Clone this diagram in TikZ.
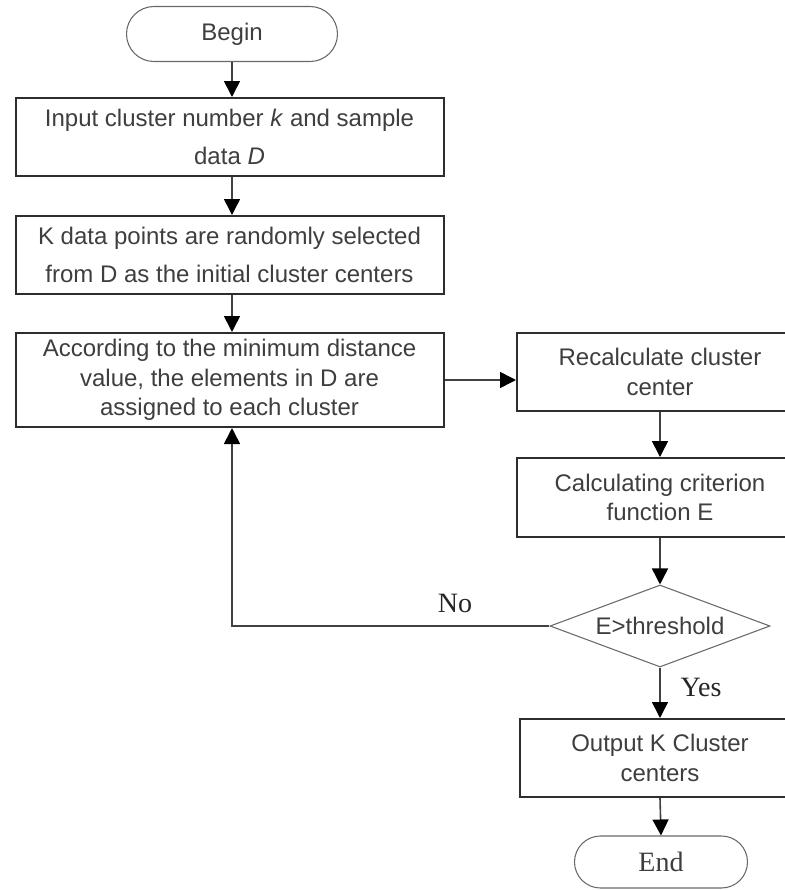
\documentclass[tikz,border=0pt]{standalone}
\usepackage{fontspec}
\setmainfont{Liberation Sans}
\newfontfamily\seriflab{Liberation Serif}
\usetikzlibrary{arrows.meta,shapes.geometric,calc}
\definecolor{txt}{RGB}{62,62,62}
\definecolor{bord}{RGB}{45,45,45}
\definecolor{thin}{RGB}{105,105,105}
\definecolor{conn}{RGB}{65,65,65}
\begin{document}
\begin{tikzpicture}[x=0.75pt,y=-0.75pt,
  every node/.style={text=txt, font=\fontsize{18}{22}\selectfont},
  procbox/.style={draw=bord, line width=1.5pt, rectangle, align=center, inner sep=0pt},
  leftbox/.style={procbox, minimum width=321pt, minimum height=58.5pt},
  rightbox/.style={procbox, minimum width=214.5pt, minimum height=58.5pt},
  term/.style={draw=thin, line width=0.8pt, rectangle, inner sep=0pt},
  decision/.style={draw=thin, line width=0.8pt, diamond, shape aspect=2.68, inner sep=0pt, minimum width=165pt, minimum height=61.5pt},
  arr/.style={draw=conn, line width=1.2pt, -{Triangle[length=12pt,width=12pt,color=black]}},
  lab/.style={font=\seriflab\fontsize{21}{24}\selectfont, text=black!85}]
\useasboundingbox (0,0) rectangle (785,890);
\clip (0,0) rectangle (785,890);
% nodes
\node[term, minimum width=158.25pt, minimum height=41.25pt, rounded corners=20.6pt] (begin) at (232,34) {Begin};
\node[leftbox, font=\fontsize{18}{28.5}\selectfont] (input) at (229.5,137) {Input cluster number \textit{k} and sample\\data \textit{D}};
\node[leftbox, font=\fontsize{18}{28.5}\selectfont] (kbox) at (229.5,255) {K data points are randomly selected\\from D as the initial cluster centers};
\node[leftbox, minimum height=70.5pt, font=\fontsize{18}{22}\selectfont] (acc) at (229.5,380) {According to the minimum distance\\value, the elements in D are\\assigned to each cluster};
\node[rightbox] (recalc) at (660,372) {Recalculate cluster\\center};
\node[rightbox, minimum height=59.25pt] (calc) at (660,497.5) {Calculating criterion\\function E};
\node[decision] (dia) at (660,626) {E>threshold};
\node[rightbox, minimum width=210pt] (output) at (660,758) {Output K Cluster\\centers};
\node[term, minimum width=129.75pt, minimum height=39pt, rounded corners=19.5pt, font=\seriflab\fontsize{21}{24}\selectfont] (end) at (661,862) {End};
% labels
\node[lab] (no) at (455,603) {No};
\node[lab, anchor=west] (yes) at (676,687) {Yes};
% connectors
\draw[arr] (begin.south) -- (begin.south |- input.north);
\draw[arr] (begin.south |- input.south) -- (begin.south |- kbox.north);
\draw[arr] (begin.south |- kbox.south) -- (begin.south |- acc.north);
\draw[arr] (acc.east) -- (acc.east -| recalc.west);
\draw[arr] (recalc.south) -- (calc.north);
\draw[arr] (calc.south) -- (dia.north);
\draw[arr] (dia.south) -- (output.north);
\draw[arr] (output.south) -- (end.north);
\draw[arr] (dia.west) -| (begin.south |- acc.south);
\end{tikzpicture}
\end{document}
